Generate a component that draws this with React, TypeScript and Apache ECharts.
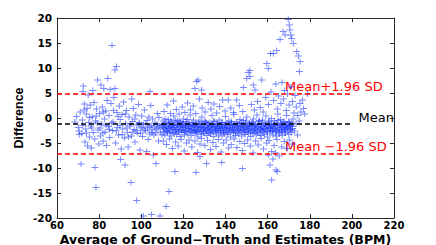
import React, { useEffect, useRef } from "react";
import * as echarts from "echarts";

const xTicks = [60, 80, 100, 120, 140, 160, 180, 200, 220];
const yTicks = [-20, -15, -10, -5, 0, 5, 10, 15, 20];
const meanDiff = -1.2;
const upperLoA = 4.8;
const lowerLoA = -7.2;
const loaSpan = [60, 200];
const labels = { upper: "Mean+1.96 SD", mean: "Mean", lower: "Mean \u22121.96 SD" };
const xTitle = "Average of Ground\u2212Truth and Estimates (BPM)";
const yTitle = "Difference";

const leftScatter: number[][] = [
  [68.5,-0.8],[69.2,0.3],[70.1,-1.9],[70.6,-3.3],[71.0,1.2],[71.4,-9.2],[71.8,-3.1],[72.0,-0.4],[72.5,6.4],[72.3,5.3],
  [72.9,1.6],[73.3,-4.8],[73.6,-2.2],[73.9,0.8],[74.2,1.9],[74.5,-5.6],[74.8,4.6],[75.1,-0.9],[75.4,-3.8],[75.8,2.6],
  [76.0,-1.6],[76.3,-6.0],[76.7,0.2],[77.0,5.5],[77.2,-2.9],[77.6,3.1],[77.9,-4.2],[78.0,-9.9],[78.5,-13.9],[78.3,-0.6],
  [78.8,1.8],[79.3,7.6],[79.5,-2.4],[79.9,-5.2],[80.2,0.9],[80.6,-3.6],[80.9,6.6],[81.2,-1.2],[81.5,2.2],[81.9,-4.6],
  [82.2,5.9],[82.5,-0.2],[82.8,-2.8],[83.1,1.4],[83.5,-5.5],[83.8,3.5],[84.1,7.9],[84.4,-1.7],[84.7,0.5],[85.0,-3.9],
  [85.2,5.7],[85.6,2.9],[86.1,14.5],[86.3,-2.5],[86.6,-0.8],[87.0,4.1],[87.5,9.6],[87.5,5.9],[87.8,-5.0],[88.3,10.3],
  [88.5,1.1],[88.8,-1.9],[89.2,-3.4],[89.6,2.4],[90.0,-0.3],[90.2,-8.3],[90.5,-6.2],[90.9,0.7],[91.2,-2.2],[91.6,3.2],
  [92.0,-4.0],[92.3,-9.4],[92.6,-1.1],[93.0,1.5],[93.4,-2.9],[93.8,-5.8],[94.2,0.2],[94.6,-1.6],[95.1,-12.9],[95.5,3.8],
  [95.3,-3.6],[95.8,-0.7],[96.2,1.9],[96.6,-2.3],[97.0,-4.8],[97.4,0.6],[97.8,-16.5],[97.9,-1.4],[98.3,-3.1],[98.7,2.7],
  [99.1,-0.9],[99.4,-6.4],[99.8,-2.0],[100.2,0.4],[100.6,-3.7],[101.0,-19.6],[101.1,-1.3],[101.5,1.6],[102.0,-2.6],[102.6,-6.7],
  [102.8,-0.5],[103.3,-4.3],[103.8,-1.8],[104.2,5.3],[104.5,2.5],[104.9,-19.3],[105.0,-2.9],[105.4,-0.2],[105.7,-7.4],[106.0,-3.4],
  [106.5,-1.0],[107.0,-9.1],[107.2,-2.2],[107.7,0.9],[108.2,-4.6],[108.9,-19.6],[108.6,-1.6],[109.1,-2.8],
  [70.5,-2.6],[72.2,-1.5],[73.0,2.8],[74.0,-3.0],[75.5,0.1],[76.5,-2.0],[78.6,0.4],[79.1,-1.0],[80.4,-2.0],[81.7,-3.0],
  [82.0,1.2],[83.3,-1.5],[84.9,-2.3],[86.0,-1.0],[86.8,1.5],[88.1,-2.6],[89.0,0.3],[89.9,-1.5],[91.0,-3.3],[92.4,0.8],
  [93.2,-2.0],[94.0,-3.8],[95.0,-1.2],[96.0,-2.8],[96.9,-0.2],[97.6,-2.5],[98.9,-1.2],[99.6,-3.0],[100.4,-1.8],[101.4,-2.4],
  [102.2,-1.1],[103.0,-2.0],[103.6,0.2],[104.0,-3.2],[104.7,-1.5],[105.2,-2.4],[106.2,-1.8],[106.9,-3.0],[107.5,-1.2],[108.0,-2.0],
  [108.4,0.1],[109.5,-1.5],[109.8,-3.4]
];

const coreBand: number[][] = [
  [110.1,-1.9],[110.4,-0.6],[110.6,-2.8],[110.9,-1.3],[111.2,-3.4],[111.4,-2.1],[111.7,-0.9],[112.0,-2.5],[112.2,-1.6],[112.5,-3.0],
  [112.8,-0.3],[113.0,-2.2],[113.3,-1.1],[113.6,-2.9],[113.8,-1.7],[114.1,-3.6],[114.4,-0.8],[114.6,-2.4],[114.9,-1.4],[115.2,-2.0],
  [115.4,0.4],[115.7,-3.1],[116.0,-1.8],[116.2,-2.6],[116.5,-1.0],[116.8,-3.3],[117.0,-2.2],[117.3,-0.5],[117.6,-1.5],[117.8,-2.8],
  [118.1,-1.9],[118.4,-3.7],[118.6,-0.9],[118.9,-2.3],[119.2,-1.2],[119.4,-2.9],[119.7,-1.7],[120.0,-0.2],[120.2,-2.5],[120.5,-3.4],
  [120.8,-1.4],[121.0,-2.0],[121.3,-0.7],[121.6,-2.7],[121.8,-1.6],[122.1,-3.2],[122.4,-2.1],[122.6,-1.0],[122.9,-2.6],[123.2,0.6],
  [123.4,-1.8],[123.7,-3.5],[124.0,-2.3],[124.2,-1.3],[124.5,-2.9],[124.8,-0.4],[125.0,-2.0],[125.3,-1.5],[125.6,-3.0],[125.8,-2.4],
  [126.1,-1.1],[126.4,-2.7],[126.6,-1.9],[126.9,-3.8],[127.2,-0.8],[127.4,-2.2],[127.7,-1.4],[128.0,-2.8],[128.2,-1.7],[128.5,-3.3],
  [128.8,0.2],[129.0,-2.5],[129.3,-1.2],[129.6,-2.0],[129.8,-3.1],[130.1,-0.6],[130.4,-1.8],[130.6,-2.6],[130.9,-1.0],[131.2,-3.5],
  [131.4,-2.2],[131.7,-1.5],[132.0,-2.9],[132.2,-0.9],[132.5,-2.4],[132.8,-1.7],[133.0,-3.2],[133.3,-2.0],[133.6,0.5],[133.8,-1.3],
  [134.1,-2.7],[134.4,-3.7],[134.6,-1.9],[134.9,-0.7],[135.2,-2.3],[135.4,-1.6],[135.7,-3.0],[136.0,-2.5],[136.2,-1.1],[136.5,-2.1],
  [136.8,-3.4],[137.0,-0.4],[137.3,-1.8],[137.6,-2.8],[137.8,-1.4],[138.1,-2.2],[138.4,-3.6],[138.6,-0.9],[138.9,-2.6],[139.2,-1.7],
  [139.4,-3.1],[139.7,-2.0],[140.0,0.3],[140.2,-1.2],[140.5,-2.4],[140.8,-3.3],[141.0,-1.5],[141.3,-2.9],[141.6,-0.6],[141.8,-2.1],
  [142.1,-1.9],[142.4,-3.8],[142.6,-2.7],[142.9,-1.0],[143.2,-2.3],[143.4,-1.6],[143.7,-3.0],[144.0,0.7],[144.2,-2.5],[144.5,-1.3],
  [144.8,-3.5],[145.0,-2.0],[145.3,-0.8],[145.6,-1.7],[145.8,-2.8],[146.1,-2.2],[146.4,-3.2],[146.6,-1.1],[146.9,-0.3],[147.2,-2.6],
  [147.4,-1.8],[147.7,-3.6],[148.0,-1.4],[148.2,-2.4],[148.5,-0.5],[148.8,-2.9],[149.0,-1.9],[149.3,-3.3],[149.6,-1.2],[149.8,-2.1],
  [150.1,0.2],[150.4,-2.7],[150.6,-1.6],[150.9,-3.0],[151.2,-2.3],[151.4,-0.9],[151.7,-1.5],[152.0,-3.7],[152.2,-2.0],[152.5,-1.0],
  [152.8,-2.5],[153.0,-3.1],[153.3,-0.2],[153.6,-1.7],[153.8,-2.8],[154.1,-2.2],[154.4,-1.3],[154.6,-3.4],[154.9,0.6],[155.2,-1.9],
  [155.4,-2.6],[155.7,-0.7],[156.0,-3.0],[156.2,-1.4],[156.5,-2.1],[156.8,-3.5],[157.0,-1.1],[157.3,-2.4],[157.6,-0.4],[157.8,-1.8],
  [158.1,-2.9],[158.4,-2.0],[158.6,-3.3],[158.9,-1.2],[159.2,0.4],[159.4,-2.6],[159.7,-1.6],[160.0,-3.8],[160.2,-2.2],[160.5,-0.8],
  [160.8,-1.9],[161.0,-3.0],[161.3,-2.4],[161.6,-1.3],[161.8,-0.1],[162.1,-2.7],[162.4,-1.7],[162.6,-3.4],[162.9,-2.1],[163.2,-0.6],
  [163.4,-1.4],[163.7,-2.8],[164.0,-3.6],[164.2,-1.0],[164.5,-2.3],[164.8,0.8],[165.0,-1.8],[165.3,-2.9],[165.6,-3.2],[165.8,-1.5],
  [166.1,-0.3],[166.4,-2.5],[166.6,-1.9],[166.9,-3.5],[167.2,-1.1],[167.4,-2.2],[167.7,-0.7],[168.0,-2.8],[168.2,-1.6],[168.5,-3.0],
  [168.8,-2.0],[169.0,0.5],[169.3,-1.3],[169.6,-2.6],[169.8,-1.8],[170.1,-3.3],[170.4,-0.9],[170.6,-2.3],[170.9,-1.5],[171.2,-2.9],
  [171.5,-1.0],[171.8,-2.1],[172.1,-0.2]
];

const coreBand2: number[][] = [
  [110.3,-1.4],[110.8,-2.2],[111.3,-0.2],[111.9,-1.8],[112.4,-2.7],[112.9,-1.2],[113.5,-2.0],[114.0,-0.6],[114.5,-1.9],[115.0,-2.9],
  [115.6,-1.5],[116.1,-0.4],[116.6,-2.3],[117.1,-1.3],[117.7,-2.6],[118.2,-0.7],[118.7,-1.6],[119.3,-2.4],[119.8,-1.0],[120.3,-1.9],
  [120.9,-2.8],[121.4,-1.2],[121.9,-0.3],[122.5,-2.2],[123.0,-1.5],[123.6,-2.6],[124.1,-0.9],[124.6,-1.7],[125.2,-2.5],[125.7,-1.1],
  [126.2,-3.0],[126.8,-1.6],[127.3,-2.4],[127.9,-0.6],[128.4,-2.0],[128.9,-1.3],[129.5,-2.7],[130.0,-1.9],[130.5,-0.8],[131.1,-2.3],
  [131.6,-1.2],[132.1,-2.0],[132.7,-3.0],[133.2,-1.5],[133.7,-2.4],[134.3,-0.6],[134.8,-1.7],[135.3,-2.8],[135.9,-1.3],[136.4,-2.1],
  [136.9,-1.6],[137.5,-2.5],[138.0,-0.9],[138.5,-1.9],[139.1,-2.9],[139.6,-1.4],[140.1,-2.2],[140.7,-1.0],[141.2,-2.0],[141.7,-2.6],
  [142.3,-1.3],[142.8,-0.7],[143.3,-1.8],[143.9,-2.4],[144.4,-1.5],[144.9,-2.9],[145.5,-1.1],[146.0,-2.0],[146.5,-2.5],[147.1,-1.5],
  [147.6,-0.9],[148.1,-2.3],[148.7,-1.7],[149.2,-2.6],[149.7,-0.6],[150.3,-1.8],[150.8,-2.2],[151.3,-1.2],[151.9,-2.9],[152.4,-1.6],
  [152.9,-0.8],[153.5,-2.4],[154.0,-1.5],[154.5,-2.0],[155.1,-2.8],[155.6,-1.2],[156.1,-0.5],[156.7,-2.3],[157.2,-1.7],[157.7,-2.6],
  [158.3,-1.0],[158.8,-2.1],[159.3,-1.5],[159.9,-2.7],[160.4,-1.3],[160.9,-0.6],[161.4,-2.0],[162.0,-1.6],[162.5,-2.5],[163.0,-1.1],
  [163.6,-2.0],[164.1,-2.6],[164.6,-1.4],[165.1,-0.5],[165.7,-2.2],[166.2,-1.3],[166.7,-2.7],[167.3,-1.8],[167.8,-0.9],[168.3,-2.3],
  [168.9,-1.5],[169.4,-2.0],[169.9,-0.7],[170.5,-1.6],[171.0,-2.4],[171.6,-1.7],
  [172.8,-2.6],[173.5,-1.2],[174.2,-3.4],[175.0,-0.6]
];

const lowerHalo: number[][] = [
  [110.5,-4.6],[112.0,-5.3],[113.4,-4.2],[114.8,-6.1],[116.3,-4.8],[117.5,-5.6],[118.9,-4.3],[120.4,-6.6],[121.5,-5.0],[122.7,-4.4],
  [124.0,-5.8],[125.5,-4.6],[126.7,-6.9],[127.9,-5.2],[128.6,-4.1],[130.2,-5.5],[131.5,-4.5],[132.9,-6.3],[134.0,-4.9],[135.5,-5.7],
  [136.6,-4.3],[137.9,-6.8],[139.0,-5.0],[140.3,-4.4],[141.5,-6.0],[142.7,-5.3],[144.1,-4.2],[145.4,-5.9],[146.8,-4.7],[148.0,-6.5],
  [149.1,-5.1],[150.5,-4.4],[151.8,-5.6],[153.1,-7.0],[154.3,-4.6],[155.5,-5.4],[156.9,-4.1],[158.0,-6.2],[159.5,-5.0],[160.7,-4.5],
  [161.9,-6.7],[163.1,-5.5],[164.4,-4.3],[165.5,-7.6],[166.7,-5.8],[167.9,-4.7],[169.1,-6.1],[170.3,-4.4],[171.7,-5.2]
];

const upperSpread: number[][] = [
  [110.8,1.3],[112.3,2.6],[113.9,0.9],[115.3,3.4],[116.7,1.7],[118.0,0.8],[119.5,2.2],[120.7,1.1],[122.0,3.0],[123.4,1.6],
  [124.7,2.4],[125.9,0.9],[126.3,7.3],[127.0,7.6],[125.5,5.9],[128.7,5.6],[127.6,3.8],[128.9,2.0],[130.3,1.2],[131.8,3.1],
  [133.1,1.8],[134.5,2.8],[135.8,1.0],[137.2,2.3],[138.6,3.6],[139.8,1.4],[141.3,3.6],[142.5,2.0],[143.8,1.1],[145.3,3.6],
  [146.6,2.5],[148.5,6.1],[148.2,1.3],[150.1,7.9],[150.8,9.1],[151.6,9.5],[151.6,8.3],[153.2,6.6],[154.0,5.6],[152.3,2.7],
  [153.7,1.6],[155.2,3.3],[156.5,2.1],[157.2,7.6],[157.9,1.2],[159.1,4.1],[159.6,10.9],[160.3,9.9],[160.4,2.7],[161.4,12.9],
  [162.7,12.9],[161.6,5.2],[162.8,3.5],[163.9,6.8],[164.3,13.5],[164.6,1.8],[165.2,4.4],[165.9,15.7],[166.3,2.9],[166.8,7.1],
  [167.4,17.3],[167.5,3.8],[168.3,16.6],[168.1,5.5],[168.9,1.5],[169.8,19.7],[169.4,4.8],[170.3,18.6],[170.6,17.6],[170.2,2.6],
  [171.0,16.6],[171.4,15.9],[171.1,6.2],[171.8,3.3],[172.2,14.9],[172.5,1.0],[173.0,4.5],[173.8,13.3],[173.6,2.2],[174.6,12.4],
  [174.3,0.5],[175.1,9.3],[175.4,11.3],[175.4,2.9],[175.8,1.2],[176.5,3.6],[177.0,1.9],[177.6,0.8],[178.9,4.8]
];

const lowOutliers: number[][] = [
  [126.0,-10.9],[131.0,-9.1],[127.9,-7.7],[138.2,-8.9],[148.0,-10.1],[160.3,-7.4],[161.1,-9.4],[161.9,-12.4],[164.0,-10.4],
  [164.6,-10.7],[162.5,-8.2],[163.8,-7.0],[116.0,-10.7],[111.8,-17.7],[113.2,-14.7]
];

const plusSymbol = "path://M0,3H3V0H4V3H7V4H4V7H3V4H0Z";

export default function App() {
  const ref = useRef<HTMLDivElement>(null);
  useEffect(() => {
    if (!ref.current) return;
    const chart = echarts.init(ref.current, null, { renderer: "svg" });
    const allPoints = [...leftScatter, ...coreBand, ...coreBand2, ...lowerHalo, ...upperSpread, ...lowOutliers];
    const tickFont = { fontFamily: "DejaVu Sans", fontWeight: "bold" as const, fontSize: 10, lineHeight: 10, color: "#000" };
    const axisLine = { show: true, onZero: false, lineStyle: { color: "#2a2a2a", width: 1 } };
    const axisTick = { show: true, inside: true, length: 4, lineStyle: { color: "#2a2a2a" } };
    const dashed = (color: string) => ({ color, type: [5, 3] as number[], width: 1.5 });
    chart.setOption({
      animation: false,
      backgroundColor: "#fff",
      grid: { left: 57, right: 42, top: 18, bottom: 27, outerBoundsMode: "none", containLabel: false },
      xAxis: [
        {
          type: "value", min: xTicks[0], max: xTicks[xTicks.length - 1], interval: 20,
          axisLine, axisTick, splitLine: { show: false },
          axisLabel: { ...tickFont, margin: 2 },
          name: xTitle, nameLocation: "middle", nameGap: 15, nameMoveOverlap: false,
          nameTextStyle: { fontFamily: "DejaVu Sans", fontWeight: "bold", fontSize: 12.5, lineHeight: 12, color: "#000", verticalAlign: "top" },
        },
        {
          type: "value", position: "top", min: xTicks[0], max: xTicks[xTicks.length - 1], interval: 20,
          axisLine, axisTick, splitLine: { show: false }, axisLabel: { show: false },
        },
      ],
      yAxis: [
        {
          type: "value", min: yTicks[0], max: yTicks[yTicks.length - 1], interval: 5,
          axisLine, axisTick, splitLine: { show: false },
          axisLabel: { ...tickFont, fontSize: 10.5, margin: 5 },
          name: yTitle, nameLocation: "middle", nameGap: 32, nameRotate: 90, nameMoveOverlap: false,
          nameTextStyle: { fontFamily: "Liberation Sans", fontWeight: "bold", fontSize: 12.5, color: "#000" },
        },
        {
          type: "value", position: "right", min: yTicks[0], max: yTicks[yTicks.length - 1], interval: 5,
          axisLine, axisTick, splitLine: { show: false }, axisLabel: { show: false },
        },
      ],
      series: [
        {
          type: "scatter",
          data: allPoints,
          symbol: plusSymbol,
          symbolSize: [7, 6],
          itemStyle: { color: "rgba(20,50,255,0.72)" },
          silent: true,
          markLine: {
            silent: true,
            symbol: ["none", "none"],
            label: { show: false },
            data: [
              [{ coord: [loaSpan[0], upperLoA], lineStyle: dashed("#ff0000") }, { coord: [loaSpan[1], upperLoA] }],
              [{ coord: [loaSpan[0], meanDiff], lineStyle: dashed("#000000") }, { coord: [loaSpan[1], meanDiff] }],
              [{ coord: [loaSpan[0], lowerLoA], lineStyle: dashed("#ff0000") }, { coord: [loaSpan[1], lowerLoA] }],
            ],
          },
        },
      ],
      graphic: [
        { type: "text", x: 285, y: 86, style: { text: labels.upper, fill: "#ff0000", font: '13px "DejaVu Sans"', textAlign: "left", textVerticalAlign: "middle" } },
        { type: "text", x: 394, y: 117, style: { text: labels.mean, fill: "#000000", font: '13px "DejaVu Sans"', textAlign: "right", textVerticalAlign: "middle" } },
        { type: "text", x: 285, y: 146, style: { text: labels.lower, fill: "#ff0000", font: '13px "DejaVu Sans"', textAlign: "left", textVerticalAlign: "middle" } },
      ],
    });
    return () => chart.dispose();
  }, []);
  return <div ref={ref} style={{ position: "fixed", left: 0, top: 0, width: 436, height: 245 }} />;
}
